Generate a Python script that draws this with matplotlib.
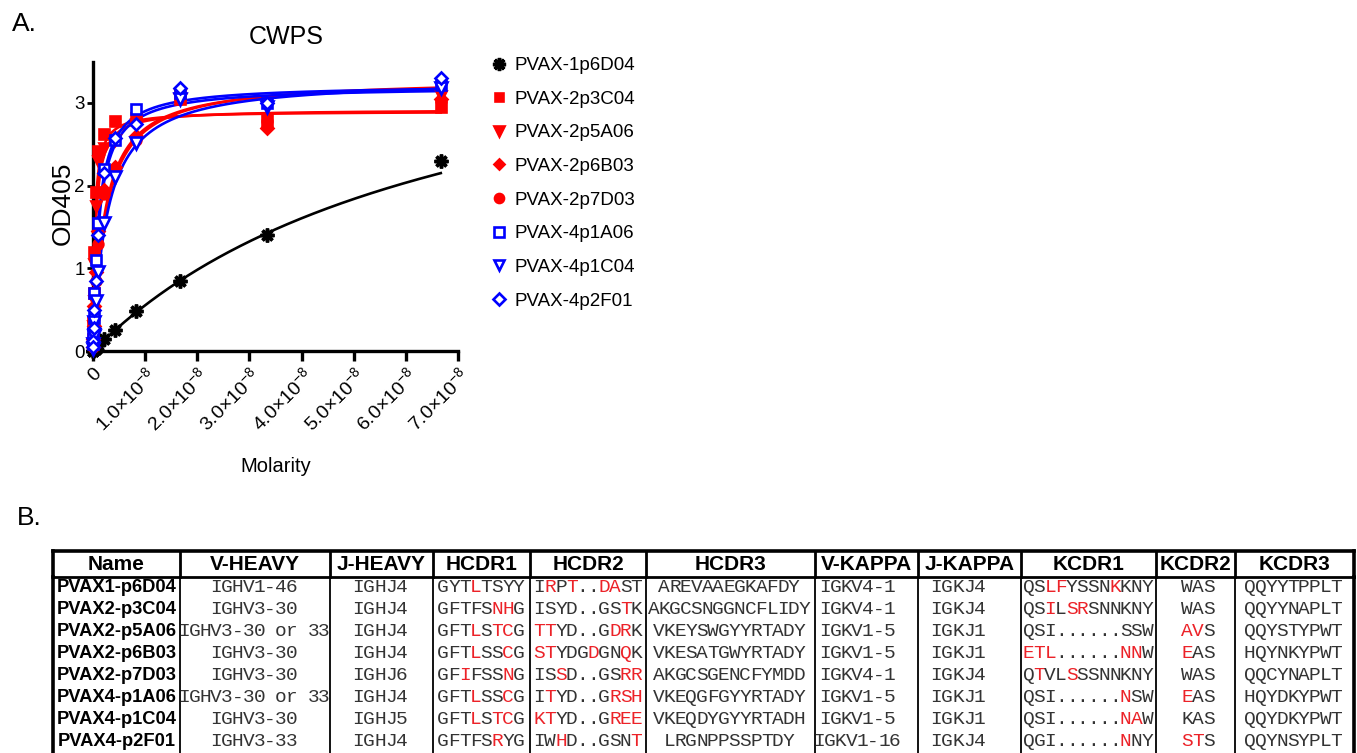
import matplotlib
matplotlib.use('Agg')
import matplotlib.pyplot as plt
from matplotlib.lines import Line2D
import numpy as np

plt.rcParams['font.family'] = ['Liberation Sans', 'DejaVu Sans']
plt.rcParams['mathtext.fontset'] = 'custom'
plt.rcParams['mathtext.rm'] = 'Liberation Sans'
plt.rcParams['mathtext.default'] = 'regular'

# ---- panel A data (2-fold dilution series, molar) ----
conc = [6.67e-8, 3.33e-8, 1.67e-8, 8.33e-9, 4.17e-9, 2.08e-9, 1.04e-9,
        5.21e-10, 2.60e-10, 1.30e-10, 6.51e-11, 3.26e-11]

mabs = ['PVAX-1p6D04', 'PVAX-2p3C04', 'PVAX-2p5A06', 'PVAX-2p6B03',
        'PVAX-2p7D03', 'PVAX-4p1A06', 'PVAX-4p1C04', 'PVAX-4p2F01']

od_1p6D04 = [2.30, 1.40, 0.85, 0.48, 0.25, 0.14, 0.07, 0.03, 0.02, 0.01, 0.0, 0.0]
od_2p3C04 = [2.95, 2.78, 3.05, 2.82, 2.78, 2.62, 2.42, 1.92, 1.20, 0.70, 0.35, 0.15]
od_2p5A06 = [3.08, 2.80, 3.10, 2.75, 2.55, 2.45, 2.30, 1.75, 1.05, 0.60, 0.30, 0.10]
od_2p6B03 = [3.05, 2.70, 3.12, 2.60, 2.22, 1.95, 1.45, 0.95, 0.55, 0.30, 0.15, 0.05]
od_2p7D03 = [3.02, 2.78, 3.05, 2.55, 2.20, 1.90, 1.30, 0.85, 0.50, 0.28, 0.12, 0.05]
od_4p1A06 = [3.22, 3.00, 3.12, 2.93, 2.55, 2.20, 1.55, 1.10, 0.70, 0.40, 0.20, 0.08]
od_4p1C04 = [3.18, 2.95, 3.05, 2.52, 2.10, 1.55, 0.95, 0.60, 0.35, 0.18, 0.08, 0.03]
od_4p2F01 = [3.30, 3.00, 3.18, 2.75, 2.58, 2.15, 1.40, 0.85, 0.50, 0.28, 0.12, 0.05]
od_all = [od_1p6D04, od_2p3C04, od_2p5A06, od_2p6B03,
          od_2p7D03, od_4p1A06, od_4p1C04, od_4p2F01]

# one-site binding fit: Bmax, Kd
bmax = [4.39, 2.90, 2.92, 3.30, 3.28, 3.22, 3.30, 3.20]
kd = [6.94e-8, 3.5e-10, 5e-10, 2.4e-9, 2.2e-9, 1.1e-9, 2.7e-9, 1.2e-9]

colors = ['black', 'red', 'red', 'red', 'red', 'blue', 'blue', 'blue']
markers = [(8, 2, 0), 's', 'v', 'D', 'o', 's', 'v', 'D']
filled = [True, True, True, True, True, False, False, False]
msizes = [10, 6.5, 7, 6, 7, 7.5, 8, 6.5]

xticks = [0, 1e-8, 2e-8, 3e-8, 4e-8, 5e-8, 6e-8, 7e-8]
xticklabels = ['0'] + ['%d.0×10$^{-8}$' % k for k in range(1, 8)]
yticks = [0, 1, 2, 3]

# ---- panel B data ----
headers = ['Name', 'V-HEAVY', 'J-HEAVY', 'HCDR1', 'HCDR2', 'HCDR3',
           'V-KAPPA', 'J-KAPPA', 'KCDR1', 'KCDR2', 'KCDR3']
names = ['PVAX1-p6D04', 'PVAX2-p3C04', 'PVAX2-p5A06', 'PVAX2-p6B03',
         'PVAX2-p7D03', 'PVAX4-p1A06', 'PVAX4-p1C04', 'PVAX4-p2F01']
vheavy = ['IGHV1-46', 'IGHV3-30', 'IGHV3-30 or 33', 'IGHV3-30',
          'IGHV3-30', 'IGHV3-30 or 33', 'IGHV3-30', 'IGHV3-33']
jheavy = ['IGHJ4', 'IGHJ4', 'IGHJ4', 'IGHJ4', 'IGHJ6', 'IGHJ4', 'IGHJ5', 'IGHJ4']
hcdr1 = ['GYTLTSYY', 'GFTFSNHG', 'GFTLSTCG', 'GFTLSSCG',
         'GFIFSSNG', 'GFTLSSCG', 'GFTLSTCG', 'GFTFSRYG']
hcdr1_red = ['00010000', '00000110', '00010110', '00010010',
             '00100010', '00010010', '00010110', '00000100']
hcdr2 = ['IRPT..DAST', 'ISYD..GSTK', 'TTYD..GDRK', 'STYDGDGNQK',
         'ISSD..GSRR', 'ITYD..GRSH', 'KTYD..GREE', 'IWHD..GSNT']
hcdr2_red = ['0101001100', '0000000010', '1100000110', '1100010010',
             '0010000011', '0100000111', '1100000111', '0010000001']
hcdr3 = ['AREVAAEGKAFDY', 'AKGCSNGGNCFLIDY', 'VKEYSWGYYRTADY', 'VKESATGWYRTADY',
         'AKGCSGENCFYMDD', 'VKEQGFGYYRTADY', 'VKEQDYGYYRTADH', 'LRGNPPSSPTDY']
vkappa = ['IGKV4-1', 'IGKV4-1', 'IGKV1-5', 'IGKV1-5',
          'IGKV4-1', 'IGKV1-5', 'IGKV1-5', 'IGKV1-16']
jkappa = ['IGKJ4', 'IGKJ4', 'IGKJ1', 'IGKJ1', 'IGKJ4', 'IGKJ1', 'IGKJ1', 'IGKJ4']
kcdr1 = ['QSLFYSSNKKNY', 'QSILSRSNNKNY', 'QSI......SSW', 'ETL......NNW',
         'QTVLSSSNNKNY', 'QSI......NSW', 'QSI......NAW', 'QGI......NNY']
kcdr1_red = ['001100001000', '001011000000', '000000000000', '111000000110',
             '010010000000', '000000000100', '000000000110', '000000000100']
kcdr2 = ['WAS', 'WAS', 'AVS', 'EAS', 'WAS', 'EAS', 'KAS', 'STS']
kcdr2_red = ['000', '000', '110', '100', '000', '100', '000', '110']
kcdr3 = ['QQYYTPPLT', 'QQYYNAPLT', 'QQYSTYPWT', 'HQYNKYPWT',
         'QQCYNAPLT', 'HQYDKYPWT', 'QQYDKYPWT', 'QQYNSYPLT']

W, H = 1357, 753
fig = plt.figure(figsize=(W / 100, H / 100), dpi=100)

# full-figure pixel axes for the table and panel letters
tab = fig.add_axes([0, 0, 1, 1])
tab.set_xlim(0, W)
tab.set_ylim(H, 0)
tab.axis('off')
tab.patch.set_visible(False)

# ---- panel A ----
ax = fig.add_axes([93 / W, 1 - 351 / H, 365 / W, 289.4 / H])
xfit = np.linspace(0, conc[0], 400)
for i in range(len(mabs)):
    c = colors[i]
    ax.plot(xfit, bmax[i] * xfit / (kd[i] + xfit), color=c, lw=1.9, zorder=2)
    ax.plot(conc, od_all[i], linestyle='none', marker=markers[i],
            markersize=msizes[i],
            markerfacecolor=c if filled[i] else 'white',
            markeredgecolor=c, markeredgewidth=2.5 if i == 0 else 1.9,
            clip_on=False, zorder=3)

ax.set_xlim(0, 7e-8)
ax.set_ylim(0, 3.5)
for s in ['top', 'right']:
    ax.spines[s].set_visible(False)
for s in ['left', 'bottom']:
    ax.spines[s].set_linewidth(2.4)
ax.set_xticks(xticks)
ax.set_xticklabels(xticklabels, rotation=45, ha='right', rotation_mode='anchor')
ax.set_yticks(yticks)
ax.tick_params(axis='x', length=7, width=2.4, labelsize=14, pad=3)
ax.tick_params(axis='y', length=4, width=2, labelsize=13.5, pad=2)
ax.set_xlabel('Molarity', fontsize=14.5, va='center')
ax.xaxis.set_label_coords(0.5, (351 - 466) / 289.4)
ax.set_ylabel('OD405', fontsize=19, va='center')
ax.yaxis.set_label_coords((63 - 93) / 365, (351 - 203) / 289.4)

fig.text(286 / W, 1 - 37 / H, 'CWPS', fontsize=18, ha='center', va='center')

handles = []
for i in range(len(mabs)):
    c = colors[i]
    handles.append(Line2D([], [], linestyle='none', marker=markers[i],
                          markersize=msizes[i] - 0.5,
                          markerfacecolor=c if filled[i] else 'white',
                          markeredgecolor=c, markeredgewidth=2.5 if i == 0 else 1.9))
fig.legend(handles, mabs, loc='upper left', bbox_to_anchor=(491 / W, 1 - 57 / H),
           frameon=False, fontsize=13.5, handlelength=0.8, handletextpad=0.45,
           labelspacing=0.88, borderpad=0, borderaxespad=0)

tab.text(12, 24, 'A.', fontsize=19, ha='left', va='center')
tab.text(17, 518, 'B.', fontsize=19, ha='left', va='center')

# ---- panel B: table ----
edges = [53, 180, 330, 433, 530, 646, 815, 918, 1021, 1156, 1235, 1354]
y_top, y_head, y_bot = 551, 577, 760
row_y = [588 + 22 * r for r in range(len(names))]
gray = '#333333'
red = '#ec2228'
pitch = 10.8

tab.plot([edges[0], edges[-1]], [y_top, y_top], color='black', lw=2.6,
         solid_capstyle='projecting')
tab.plot([edges[0], edges[-1]], [y_head, y_head], color='black', lw=2.0)
for k, x in enumerate(edges):
    outer = k == 0 or k == len(edges) - 1
    tab.plot([x, x], [y_top, y_head], color='black', lw=2.6 if outer else 2.0)
    tab.plot([x, x], [y_head, y_bot], color='black', lw=2.6 if outer else 1.3)

centers = [(edges[k] + edges[k + 1]) / 2 for k in range(len(headers))]
for k, h in enumerate(headers):
    tab.text(centers[k], 565, h, fontsize=15, fontweight='bold',
             ha='center', va='center')


def draw_seq(xc, y, s, mask=None):
    n = len(s)
    for j, ch in enumerate(s):
        if ch == ' ':
            continue
        col = red if (mask is not None and mask[j] == '1') else gray
        tab.text(xc + (j - (n - 1) / 2) * pitch, y, ch, color=col,
                 family='Liberation Mono', fontsize=14,
                 ha='center', va='center')


columns = [(vheavy, None), (jheavy, None), (hcdr1, hcdr1_red), (hcdr2, hcdr2_red),
           (hcdr3, None), (vkappa, None), (jkappa, None), (kcdr1, kcdr1_red),
           (kcdr2, kcdr2_red), (kcdr3, None)]
col_x = [254, 380, 481, 588, 729, 857, 958, 1088, 1198, 1293]

for r, name in enumerate(names):
    tab.text(centers[0], row_y[r], name, fontsize=13.2, fontweight='bold',
             ha='center', va='center')
    for k, (vals, masks) in enumerate(columns):
        draw_seq(col_x[k], row_y[r], vals[r], masks[r] if masks else None)

fig.savefig('out.png', dpi=100)
